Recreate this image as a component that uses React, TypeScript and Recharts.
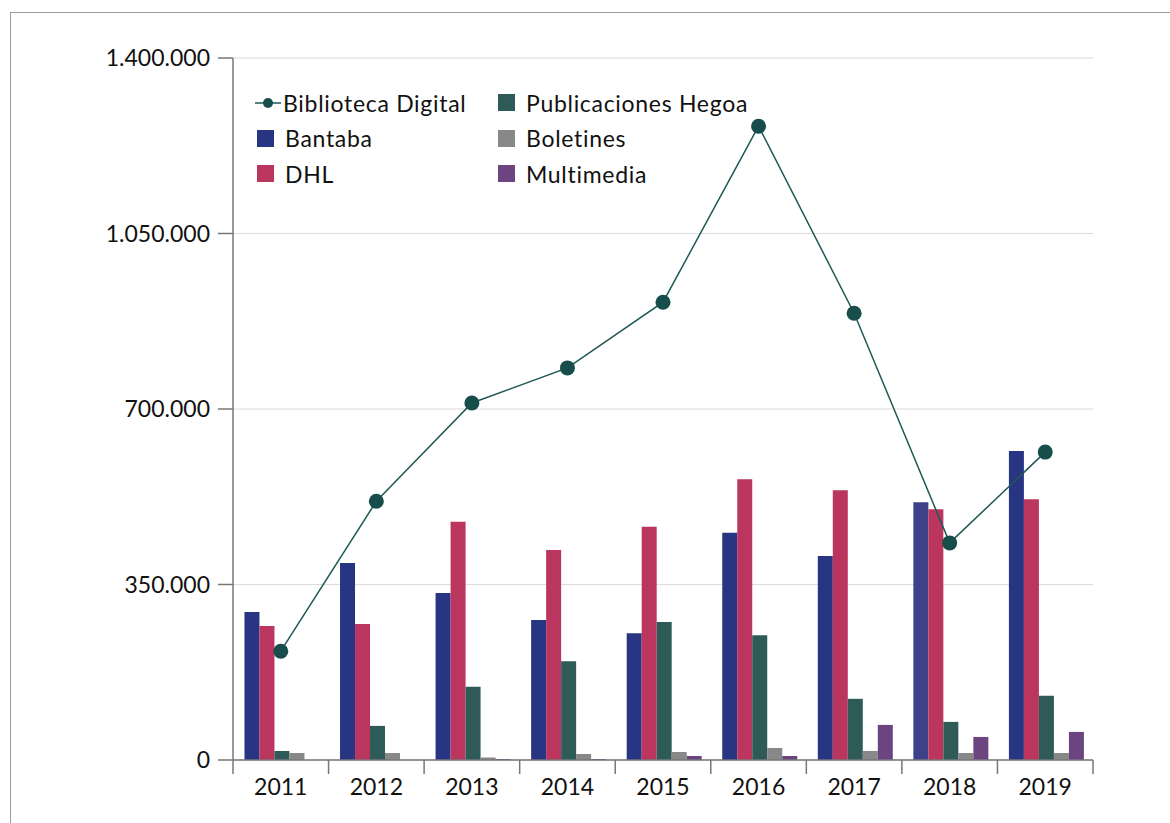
import { ComposedChart, Bar, Line, XAxis, YAxis, CartesianGrid, Cell } from "recharts"

const years = ["2011", "2012", "2013", "2014", "2015", "2016", "2017", "2018", "2019"]
const bibliotecaDigital = [217000, 516000, 712000, 782000, 913000, 1264000, 891000, 433000, 614000]
const bantaba = [295000, 393000, 333000, 279000, 253000, 453000, 407000, 514000, 616000]
const dhl = [267000, 271000, 475000, 419000, 465000, 560000, 538000, 500000, 520000]
const publicaciones = [18000, 68000, 146000, 197000, 275000, 249000, 122000, 76000, 128000]
const boletines = [14000, 14000, 5000, 12000, 16000, 24000, 18000, 14000, 14000]
const multimedia = [0, 0, 2000, 2000, 8000, 8000, 70000, 46000, 56000]
const yTicks = [0, 350000, 700000, 1050000, 1400000]

const data = years.map((year, i) => ({
  year,
  bibliotecaDigital: bibliotecaDigital[i],
  bantaba: bantaba[i],
  dhl: dhl[i],
  publicaciones: publicaciones[i],
  boletines: boletines[i],
  multimedia: multimedia[i],
}))

const W = 1170
const H = 823
const Y_W = 233
const X_H = 40
const margin = { top: 58, right: 77, bottom: 23, left: 0 }
const bandWidth = (W - margin.left - margin.right - Y_W) / years.length

const FONT = "Lato, 'Open Sans', sans-serif"
const FS = 23
const AXIS = "#777777"

const LINE_COLOR = "#1f5855"
const DOT_COLOR = "#174d4a"

const bars = [
  { key: "bantaba", name: "Bantaba", color: "#283583" },
  { key: "dhl", name: "DHL", color: "#bb365e" },
  { key: "publicaciones", name: "Publicaciones Hegoa", color: "#2e5b58" },
  { key: "boletines", name: "Boletines", color: "#888888" },
  { key: "multimedia", name: "Multimedia", color: "#6c4480" },
]

const fmt = (v: number) => String(v).replace(/\B(?=(\d{3})+(?!\d))/g, ".")

function YearTick(props: any) {
  const { x, y, payload, index } = props
  const half = bandWidth / 2
  return (
    <g>
      <line x1={x - half} x2={x - half} y1={y} y2={y + 14} stroke={AXIS} strokeWidth={1.5} />
      {index === years.length - 1 && (
        <line x1={x + half} x2={x + half} y1={y} y2={y + 14} stroke={AXIS} strokeWidth={1.5} />
      )}
      <text
        x={x}
        y={y + 26}
        textAnchor="middle"
        dominantBaseline="central"
        fill="#111"
        fontSize={FS}
        fontFamily={FONT}
      >
        {payload.value}
      </text>
    </g>
  )
}

function LegendBox() {
  const swatch = (color: string) => (
    <span style={{ display: "inline-block", width: 17, height: 17, background: color, marginRight: 11 }} />
  )
  const row: React.CSSProperties = { display: "flex", alignItems: "center", height: 35.5, whiteSpace: "nowrap" }
  const left = [bars[0], bars[1]]
  const right = [bars[2], bars[3], bars[4]]
  return (
    <div
      style={{
        position: "absolute",
        left: 255,
        top: 85,
        display: "flex",
        fontFamily: FONT,
        fontSize: FS,
        letterSpacing: 0.7,
        color: "#111",
      }}
    >
      <div style={{ width: 243 }}>
        <div style={row}>
          <svg width={26} height={14} style={{ marginRight: 2 }}>
            <line x1={0} x2={26} y1={7} y2={7} stroke={LINE_COLOR} strokeWidth={1.5} />
            <circle cx={13} cy={7} r={5} fill={DOT_COLOR} />
          </svg>
          Biblioteca Digital
        </div>
        {left.map((b) => (
          <div key={b.key} style={row}>
            <span style={{ marginLeft: 2, display: "flex", alignItems: "center" }}>{swatch(b.color)}</span>
            {b.name}
          </div>
        ))}
      </div>
      <div>
        {right.map((b) => (
          <div key={b.key} style={row}>
            {swatch(b.color)}
            {b.name}
          </div>
        ))}
      </div>
    </div>
  )
}

export default function App() {
  return (
    <div
      style={{
        position: "absolute",
        left: 0,
        top: 0,
        width: W,
        height: H,
        overflow: "hidden",
        background: "#fff",
      }}
    >
      <div
        style={{
          position: "absolute",
          left: 10,
          top: 12,
          width: W + 50,
          height: H + 50,
          borderTop: "1.5px solid #9c9c9c",
          borderLeft: "1.5px solid #9c9c9c",
        }}
      />
      <div style={{ position: "absolute", left: 0, top: 0 }}>
        <ComposedChart width={W} height={H} data={data} margin={margin} barCategoryGap="12%" barGap={0}>
          <CartesianGrid vertical={false} stroke="#dcdcdc" strokeWidth={1.2} />
          <XAxis
            dataKey="year"
            height={X_H}
            axisLine={{ stroke: AXIS, strokeWidth: 1.5 }}
            tickLine={false}
            tickSize={0}
            tickMargin={0}
            tick={<YearTick />}
            interval={0}
          />
          <YAxis
            width={Y_W}
            domain={[0, 1400000]}
            ticks={yTicks}
            tickFormatter={fmt}
            axisLine={{ stroke: AXIS, strokeWidth: 1.5 }}
            tickLine={{ stroke: AXIS, strokeWidth: 1.5 }}
            tickSize={15}
            tickMargin={8}
            tick={{ fill: "#111", fontSize: FS, fontFamily: FONT }}
          />
          {bars.map((b) => (
            <Bar key={b.key} dataKey={b.key} name={b.name} fill={b.color} isAnimationActive={false}>
              {b.key === "bantaba" &&
                years.map((y) => <Cell key={y} fill={y === "2018" ? "#3c418a" : b.color} />)}
            </Bar>
          ))}
          <Line
            type="linear"
            dataKey="bibliotecaDigital"
            name="Biblioteca Digital"
            stroke={LINE_COLOR}
            strokeWidth={1.5}
            dot={{ r: 7.5, fill: DOT_COLOR, stroke: "none" }}
            activeDot={false}
            isAnimationActive={false}
          />
        </ComposedChart>
      </div>
      <LegendBox />
    </div>
  )
}
